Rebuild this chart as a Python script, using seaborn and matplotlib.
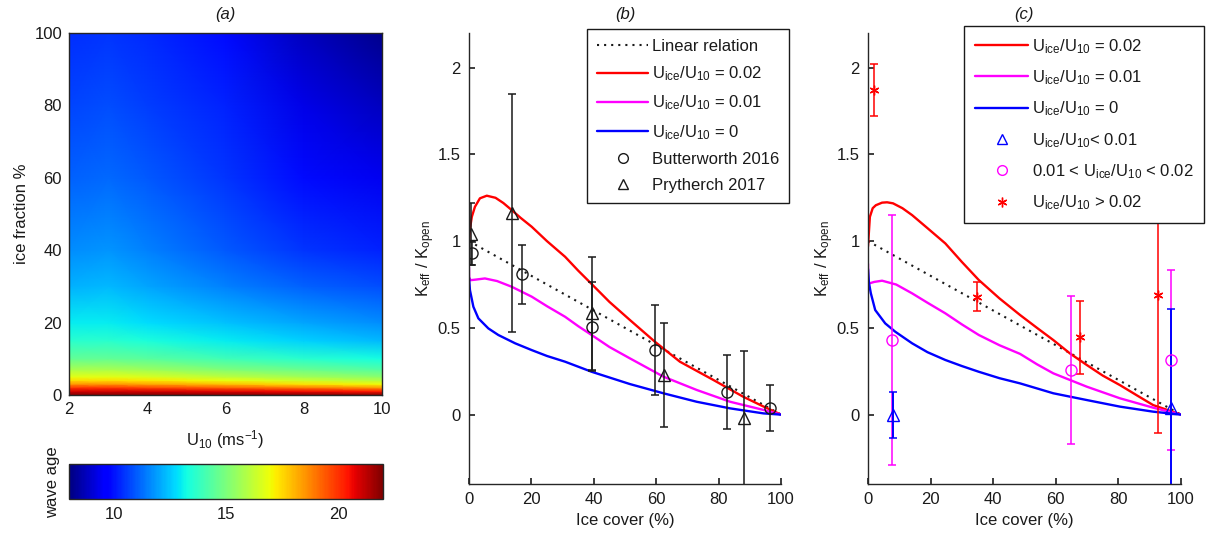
import numpy as np
import matplotlib
matplotlib.use("Agg")
import matplotlib.pyplot as plt
import seaborn as sns
from matplotlib.lines import Line2D
from matplotlib.ticker import FormatStrFormatter

# ---------------- data: panel (a) wave age field ----------------
u10_grid = [2, 3, 4, 6, 8, 10]
ice_grid = [0, 1, 2, 3, 4, 5, 7, 10, 15, 20, 30, 40, 60, 80, 100]
wave_age_u2 = [22, 21, 20, 18.5, 17.5, 16.8, 15.8, 14.6, 13.6, 13.0, 12.2, 11.7, 11.1, 10.7, 10.4]
wave_age_u3 = [22, 21, 20, 18.5, 17.5, 16.8, 15.8, 14.6, 13.6, 13.0, 12.3, 11.8, 11.2, 10.8, 10.5]
wave_age_u4 = [22, 21, 19.8, 18.3, 17.3, 16.6, 15.6, 14.4, 13.4, 12.8, 12.0, 11.5, 11.0, 10.6, 10.3]
wave_age_u6 = [22, 20.8, 19.4, 17.9, 16.9, 16.1, 15.1, 14.0, 13.0, 12.4, 11.5, 11.0, 10.5, 10.2, 9.9]
wave_age_u8 = [22, 20.6, 19.0, 17.4, 16.4, 15.7, 14.7, 13.6, 12.6, 12.0, 11.1, 10.5, 9.9, 9.3, 8.8]
wave_age_u10 = [22, 20.4, 18.5, 17.0, 16.0, 15.3, 14.3, 13.3, 12.3, 11.7, 10.8, 10.2, 9.4, 8.8, 8.2]
cbar_ticks = [10, 15, 20]

# ---------------- data: panel (b) ----------------
linear_x = [0, 100]
linear_y = [1, 0]

b_red_x = [0, 0.3, 0.9, 1.9, 3.5, 5.7, 8.5, 11, 13.7, 16.5, 20.1, 25, 30.8, 35, 39.3, 45, 51.6, 59.6, 67.6, 78.3, 87.9, 94, 100]
b_red_y = [1.0, 1.07, 1.14, 1.198, 1.247, 1.262, 1.25, 1.22, 1.179, 1.135, 1.083, 1.0, 0.91, 0.83, 0.753, 0.65, 0.545, 0.42, 0.305, 0.2, 0.103, 0.05, 0.0]
b_mag_x = [0, 0.05, 0.5, 2, 5.1, 9, 13.7, 20.1, 25, 30.8, 35, 39.3, 45, 51.6, 62.3, 73, 83.7, 94.4, 100]
b_mag_y = [0.85, 0.79, 0.775, 0.778, 0.785, 0.77, 0.737, 0.68, 0.625, 0.564, 0.51, 0.459, 0.39, 0.324, 0.219, 0.142, 0.074, 0.027, 0.0]
b_blue_x = [0, 0.3, 1.4, 3, 6.2, 9.4, 14.8, 20.1, 25, 30.8, 39.3, 51.6, 62.3, 73, 83.7, 94.4, 100]
b_blue_y = [0.79, 0.718, 0.622, 0.555, 0.497, 0.459, 0.411, 0.372, 0.338, 0.305, 0.247, 0.176, 0.123, 0.074, 0.036, 0.007, 0.0]

butter_x = [0.9, 17.1, 39.3, 59.6, 82.8, 96.4]
butter_y = [0.93, 0.81, 0.507, 0.372, 0.132, 0.036]
butter_err = [0.065, 0.17, 0.255, 0.26, 0.213, 0.132]
pryth_x = [0.6, 13.9, 39.5, 62.5, 88.0]
pryth_y = [1.04, 1.16, 0.584, 0.228, -0.021]
pryth_err = [0.18, 0.686, 0.325, 0.30, 0.39]

# ---------------- data: panel (c) ----------------
c_red_x = [0, 0.6, 1.5, 2.5, 4.5, 6.1, 8, 11, 14.1, 19, 24.7, 30, 35.4, 42, 48.6, 54, 59.2, 64.5, 69.9, 75, 80.5, 86, 91.1, 100]
c_red_y = [0.97, 1.14, 1.19, 1.207, 1.222, 1.224, 1.218, 1.19, 1.15, 1.075, 0.987, 0.88, 0.776, 0.67, 0.574, 0.5, 0.43, 0.353, 0.286, 0.225, 0.17, 0.11, 0.055, 0.0]
c_mag_x = [0, 0.05, 0.5, 2, 4.5, 9, 14.1, 19, 24.7, 30, 35.4, 42, 48.6, 54, 59.2, 69.9, 80.5, 91.1, 100]
c_mag_y = [0.87, 0.77, 0.757, 0.765, 0.772, 0.75, 0.699, 0.645, 0.584, 0.52, 0.459, 0.40, 0.35, 0.29, 0.238, 0.161, 0.094, 0.04, 0.0]
c_blue_x = [0, 0.3, 0.9, 2.3, 5.5, 8.7, 14.1, 19, 24.7, 30, 35.4, 42, 48.6, 59.2, 69.9, 80.5, 91.1, 100]
c_blue_y = [0.84, 0.76, 0.70, 0.603, 0.526, 0.478, 0.411, 0.36, 0.315, 0.28, 0.247, 0.21, 0.18, 0.123, 0.084, 0.046, 0.017, 0.0]

low_x = [8.0, 96.8]
low_y = [0.0, 0.036]
low_err = [0.133, 0.573]
mid_x = [7.7, 64.8, 96.7]
mid_y = [0.43, 0.257, 0.315]
mid_err = [0.72, 0.425, 0.52]
high_x = [1.8, 34.8, 67.8, 92.7]
high_y = [1.871, 0.68, 0.445, 0.69]
high_err = [0.15, 0.082, 0.21, 0.794]

# ---------------- style ----------------
sns.set_theme(style="white")
plt.rcParams["font.family"] = ["Liberation Sans", "DejaVu Sans"]
plt.rcParams["mathtext.fontset"] = "custom"
plt.rcParams["mathtext.rm"] = "Liberation Sans"
plt.rcParams["mathtext.it"] = "Liberation Sans:italic"
plt.rcParams["mathtext.bf"] = "Liberation Sans:bold"
plt.rcParams["text.color"] = "0.1"
plt.rcParams["axes.labelcolor"] = "0.1"
plt.rcParams["xtick.color"] = "0.1"
plt.rcParams["ytick.color"] = "0.1"

W, H = 1212, 535
fig = plt.figure(figsize=(W / 100, H / 100), dpi=100)

def fax(l, r, t, b):
    return fig.add_axes([l / W, 1 - b / H, (r - l) / W, (b - t) / H])

FS = 12
RED, MAG, BLUE = "#ff0000", "#ff00ff", "#0000ff"
ULAB = r"$\mathregular{U_{ice}/U_{10}}$"
DOT = (0, (1, 2.4))

# ---------------- panel (a) ----------------
axa = fax(69, 382, 33, 395)
Z = np.array([wave_age_u2, wave_age_u3, wave_age_u4, wave_age_u6, wave_age_u8, wave_age_u10]).T
mesh = axa.pcolormesh(u10_grid, ice_grid, Z, shading="gouraud", cmap="jet", vmin=8, vmax=22)
axa.set_xlim(2, 10)
axa.set_ylim(0, 100)
axa.set_xticks([2, 4, 6, 8, 10])
axa.set_yticks([0, 20, 40, 60, 80, 100])
axa.tick_params(length=0, labelsize=FS, pad=5)
for s in axa.spines.values():
    s.set_color("0.15")
    s.set_linewidth(1.0)
axa.set_ylabel("ice fraction %", fontsize=FS, labelpad=4)
axa.set_xlabel(r"U$_{10}$ (ms$^{-1}$)", fontsize=FS, labelpad=8)

cax = fax(69, 383, 464, 499)
cb = fig.colorbar(mesh, cax=cax, orientation="horizontal", ticks=cbar_ticks)
cb.outline.set_linewidth(1.0)
cb.outline.set_edgecolor("0.15")
cax.tick_params(direction="in", top=True, bottom=True, length=3, labelsize=FS, pad=6, color="0.15")
fig.text(53 / W, 1 - 482 / H, "wave age", rotation=90, ha="center", va="center", fontsize=FS)
fig.text(225 / W, 1 - 15 / H, "(a)", ha="center", va="center", fontsize=FS, style="italic")

# ---------------- panels (b) and (c) common ----------------
def style_k(ax):
    ax.set_xlim(0, 100)
    ax.set_ylim(-0.4, 2.2)
    ax.set_xticks([0, 20, 40, 60, 80, 100])
    ax.set_yticks([0, 0.5, 1, 1.5, 2])
    ax.yaxis.set_major_formatter(FormatStrFormatter("%g"))
    ax.spines["top"].set_visible(False)
    ax.spines["right"].set_visible(False)
    for s in ("left", "bottom"):
        ax.spines[s].set_color("0.15")
        ax.spines[s].set_linewidth(1.0)
    ax.tick_params(direction="in", length=4, labelsize=FS, pad=6, color="0.15",
                   left=True, bottom=True)
    ax.set_xlabel("Ice cover (%)", fontsize=FS, labelpad=4)
    ax.set_ylabel(r"$\mathregular{K_{eff}\ /\ K_{open}}$", fontsize=FS, labelpad=0.5)

LW = 1.7

# ---------------- panel (b) ----------------
axb = fax(469, 781, 33, 484)
sns.lineplot(x=linear_x, y=linear_y, ax=axb, color="k", lw=1.5, linestyle=DOT, legend=False)
sns.lineplot(x=b_red_x, y=b_red_y, ax=axb, color=RED, lw=LW, estimator=None, sort=False, legend=False)
sns.lineplot(x=b_mag_x, y=b_mag_y, ax=axb, color=MAG, lw=LW, estimator=None, sort=False, legend=False)
sns.lineplot(x=b_blue_x, y=b_blue_y, ax=axb, color=BLUE, lw=LW, estimator=None, sort=False, legend=False)
axb.errorbar(butter_x, butter_y, yerr=butter_err, fmt="none", ecolor="0.1", elinewidth=1.1, capsize=3, capthick=1.1)
axb.errorbar(pryth_x, pryth_y, yerr=pryth_err, fmt="none", ecolor="0.1", elinewidth=1.1, capsize=3, capthick=1.1)
axb.plot(butter_x, butter_y, linestyle="none", marker="o", ms=8, mfc="none", mec="0.1", mew=1.0)
axb.plot(pryth_x, pryth_y, linestyle="none", marker="^", ms=8.5, mfc="none", mec="0.1", mew=1.0)
style_k(axb)
fig.text(625 / W, 1 - 15 / H, "(b)", ha="center", va="center", fontsize=FS, style="italic")

hb = [
    Line2D([], [], color="k", lw=1.5, linestyle=DOT),
    Line2D([], [], color=RED, lw=LW),
    Line2D([], [], color=MAG, lw=LW),
    Line2D([], [], color=BLUE, lw=LW),
    Line2D([], [], linestyle="none", marker="o", ms=7, mfc="none", mec="0.1"),
    Line2D([], [], linestyle="none", marker="^", ms=7.5, mfc="none", mec="0.1"),
]
lb = ["Linear relation", ULAB + " = 0.02", ULAB + " = 0.01", ULAB + " = 0",
      "Butterworth 2016", "Prytherch 2017"]
legb = axb.legend(hb, lb, loc="upper right", bbox_to_anchor=(789 / W, 1 - 29 / H),
                  bbox_transform=fig.transFigure, borderaxespad=0, fontsize=FS,
                  fancybox=False, framealpha=1, edgecolor="0.1", handlelength=3.1,
                  handletextpad=0.2, labelspacing=0.63, borderpad=0.6)
legb.get_frame().set_linewidth(1.0)

# ---------------- panel (c) ----------------
axc = fax(868, 1181, 33, 484)
sns.lineplot(x=linear_x, y=linear_y, ax=axc, color="k", lw=1.5, linestyle=DOT, legend=False)
sns.lineplot(x=c_red_x, y=c_red_y, ax=axc, color=RED, lw=LW, estimator=None, sort=False, legend=False)
sns.lineplot(x=c_mag_x, y=c_mag_y, ax=axc, color=MAG, lw=LW, estimator=None, sort=False, legend=False)
sns.lineplot(x=c_blue_x, y=c_blue_y, ax=axc, color=BLUE, lw=LW, estimator=None, sort=False, legend=False)
axc.errorbar(mid_x, mid_y, yerr=mid_err, fmt="none", ecolor=MAG, elinewidth=1.1, capsize=3, capthick=1.1)
axc.errorbar(high_x, high_y, yerr=high_err, fmt="none", ecolor=RED, elinewidth=1.1, capsize=3, capthick=1.1)
axc.errorbar(low_x, low_y, yerr=low_err, fmt="none", ecolor=BLUE, elinewidth=1.4, capsize=3, capthick=1.1)
axc.plot(low_x, low_y, linestyle="none", marker="^", ms=8.5, mfc="none", mec=BLUE, mew=1.0)
axc.plot(mid_x, mid_y, linestyle="none", marker="o", ms=8, mfc="none", mec=MAG, mew=1.0)
axc.plot(high_x, high_y, linestyle="none", marker=(6, 2, 0), ms=7, mec=RED, mew=1.0)
style_k(axc)
fig.text(1024 / W, 1 - 15 / H, "(c)", ha="center", va="center", fontsize=FS, style="italic")

hc = [
    Line2D([], [], color=RED, lw=LW),
    Line2D([], [], color=MAG, lw=LW),
    Line2D([], [], color=BLUE, lw=LW),
    Line2D([], [], linestyle="none", marker="^", ms=7.5, mfc="none", mec=BLUE),
    Line2D([], [], linestyle="none", marker="o", ms=7, mfc="none", mec=MAG),
    Line2D([], [], linestyle="none", marker=(6, 2, 0), ms=7, mec=RED),
]
lc = [ULAB + " = 0.02", ULAB + " = 0.01", ULAB + " = 0", ULAB + "< 0.01",
      "0.01 < " + ULAB + " < 0.02", ULAB + " > 0.02"]
legc = axc.legend(hc, lc, loc="upper right", bbox_to_anchor=(1204 / W, 1 - 26 / H),
                  bbox_transform=fig.transFigure, borderaxespad=0, fontsize=FS,
                  fancybox=False, framealpha=1, edgecolor="0.1", handlelength=3.2,
                  handletextpad=0.2, labelspacing=0.76, borderpad=0.65)
legc.get_frame().set_linewidth(1.0)

fig.savefig("out.png", dpi=100)
